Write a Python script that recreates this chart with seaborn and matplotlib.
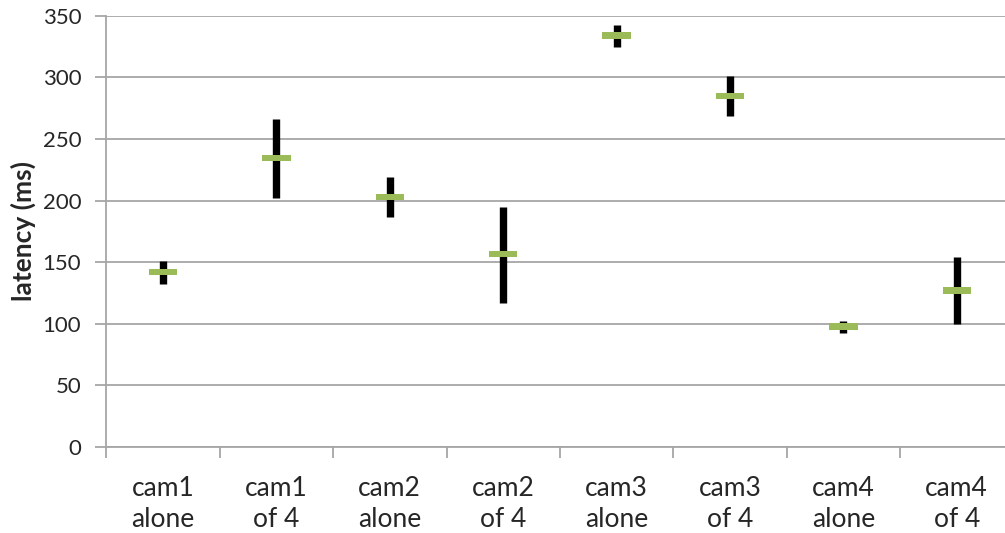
import numpy as np
import pandas as pd
import matplotlib
matplotlib.use("Agg")
import matplotlib.pyplot as plt
import seaborn as sns

# latency per camera setup
categories = ["cam1\nalone", "cam1\nof 4", "cam2\nalone", "cam2\nof 4",
              "cam3\nalone", "cam3\nof 4", "cam4\nalone", "cam4\nof 4"]
mean_ms = [142, 234.5, 203, 156.5, 334, 285, 97.7, 127]
low_ms = [132, 202, 187, 117, 324.7, 268.6, 92.9, 100]
high_ms = [151, 266.5, 219, 195, 342.8, 301, 102.6, 154]

df = pd.DataFrame({"setup": categories, "mean": mean_ms, "low": low_ms, "high": high_ms})

sns.set_style("white")
plt.rcParams["font.family"] = ["Lato", "DejaVu Sans"]

GRID = "#A6A6A6"
GREEN = "#9BBB59"

fig = plt.figure(figsize=(10.05, 5.33), dpi=100)
ax = fig.add_axes([106.3 / 1005, 86 / 533, 907.2 / 1005, 431.3 / 533])

ax.set_ylim(0, 350)
ax.set_yticks(np.arange(0, 351, 50))
ax.yaxis.grid(True, color=GRID, linewidth=1.3)
ax.set_axisbelow(True)

# range bars (min..max)
pos = np.arange(len(df))
ax.vlines(pos, df["low"], df["high"], color="black", linewidth=5.3, zorder=3)

# mean markers as flat green rectangles
rect = [(-1, -0.22), (1, -0.22), (1, 0.22), (-1, 0.22), (-1, -0.22)]
sns.scatterplot(data=df, x="setup", y="mean", marker=rect, s=420,
                color=GREEN, edgecolor="none", linewidth=0, zorder=4, ax=ax)

ax.set_xlim(-0.5, len(df) - 0.5)
ax.set_xlabel("")
ax.set_ylabel("latency (ms)", fontsize=19, fontweight="bold", labelpad=5)

for side in ["top", "right"]:
    ax.spines[side].set_visible(False)
for side in ["left", "bottom"]:
    ax.spines[side].set_color(GRID)
    ax.spines[side].set_linewidth(1.3)

ax.tick_params(axis="y", length=8, width=1.3, color=GRID, direction="out",
               labelsize=16, pad=10, left=True)
ax.set_xticks(pos)
ax.set_xticklabels(categories, fontsize=19, linespacing=1.3)
ax.tick_params(axis="x", which="major", length=0, pad=21)
ax.set_xticks(np.arange(-0.5, len(df), 1), minor=True)
ax.tick_params(axis="x", which="minor", length=8, width=1.3, color=GRID,
               direction="out", bottom=True)

fig.savefig("out.png", dpi=100)
